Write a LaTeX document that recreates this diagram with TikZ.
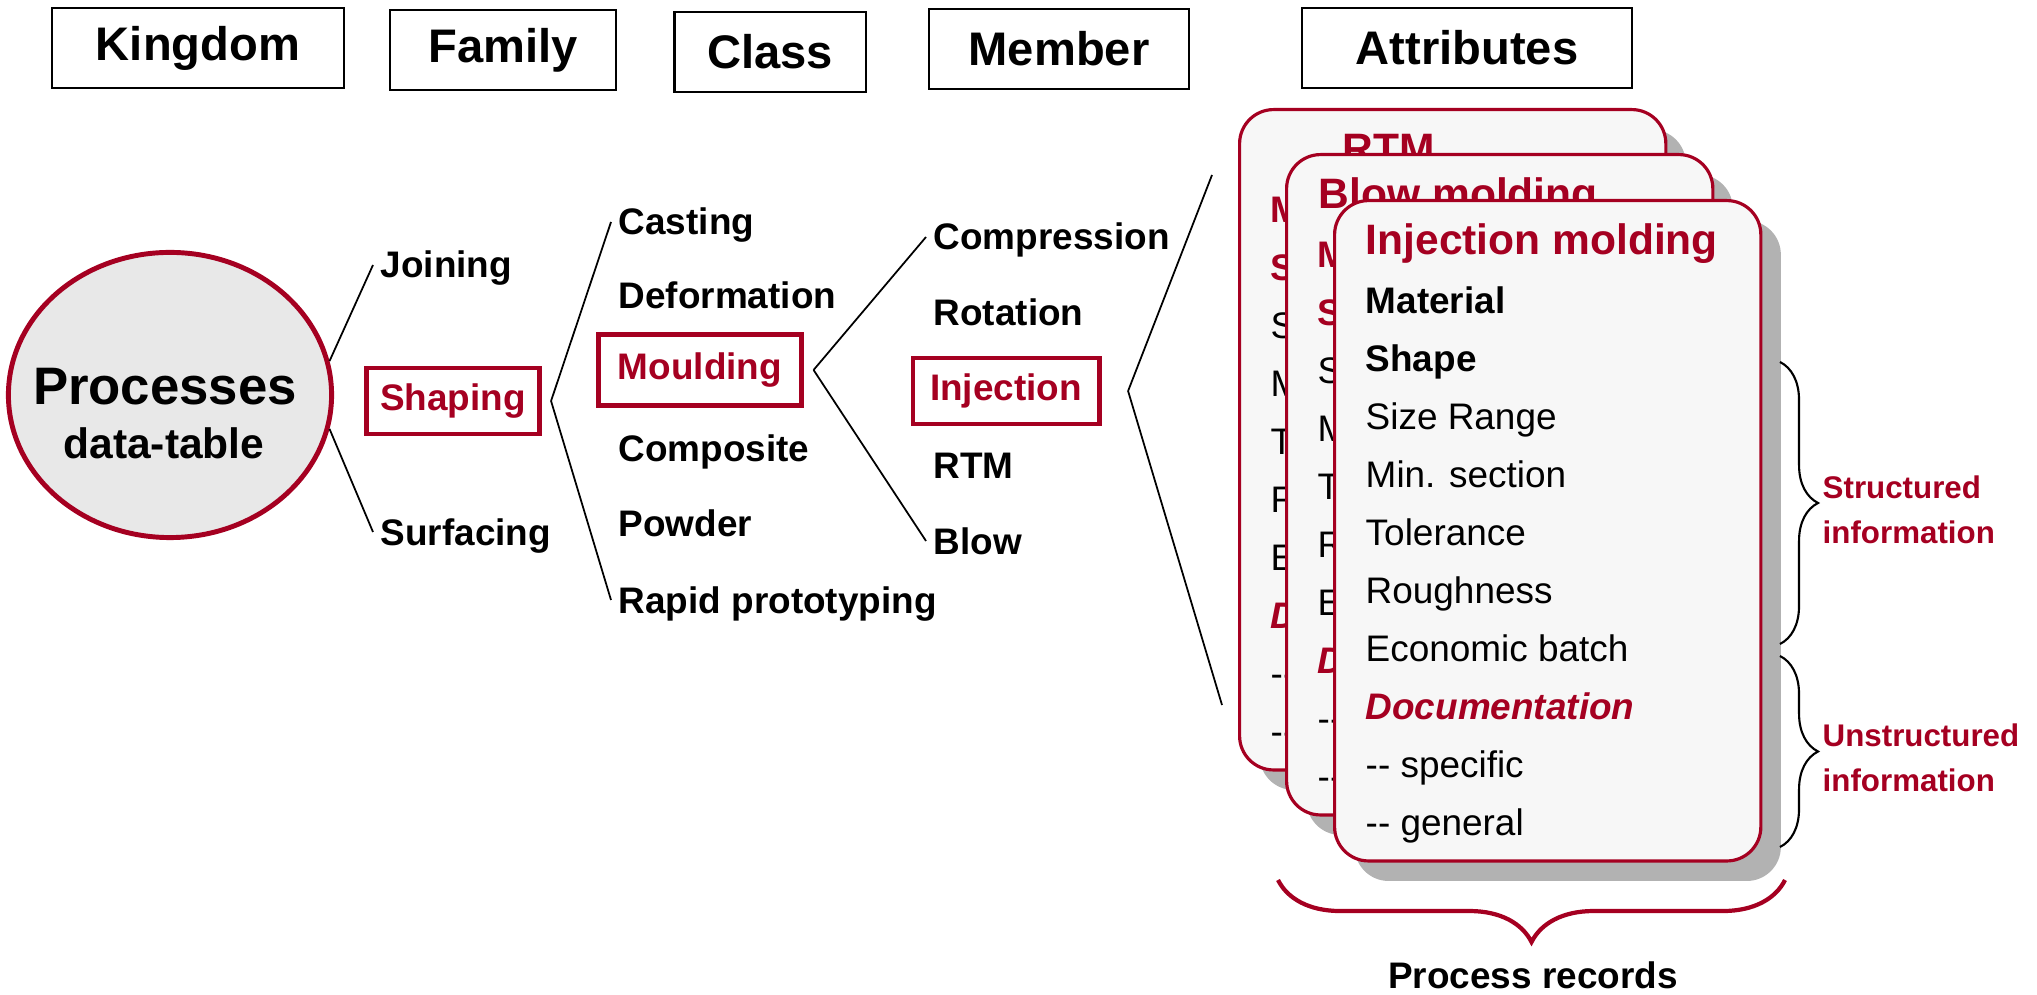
\documentclass[tikz,border=0pt]{standalone}
\usepackage{fontspec}
\setmainfont{Liberation Sans}
\usetikzlibrary{shapes.geometric}
\usetikzlibrary{shadows}
\usetikzlibrary{decorations.pathreplacing}
\usetikzlibrary{calc}

\definecolor{procred}{RGB}{165,0,33}
\definecolor{cardgray}{RGB}{247,247,247}
\definecolor{shadowgray}{RGB}{178,178,178}
\definecolor{bubblegray}{RGB}{232,232,232}

\newcommand{\fsz}[1]{\fontsize{#1}{#1}\selectfont}

% one process record card: name, top left corner, title, title indent, colour of the first two rows
\newcommand{\proccard}[5]{%
  \colorlet{keycol}{#5}%
  \node[card] (#1) at (#2) {};
  \node[cardtitle] at ([xshift=#4,yshift=-0.40cm]#1.north west) {#3};
  \foreach \txt/\sty [count=\i from 0] in {Material/rowkey, Shape/rowkey,
      Size Range/rowtxt, Min. section/rowtxt, Tolerance/rowtxt, Roughness/rowtxt,
      Economic batch/rowtxt, Documentation/rowdoc, -{}- specific/rowtxt, -{}- general/rowtxt}
    \node[\sty] at ([xshift=0.32cm,yshift=-1.01cm-0.58cm*\i]#1.north west) {\txt};
}

\begin{document}
\begin{tikzpicture}[x=0.01cm, y=-0.01cm,
  hdr/.style={draw, line width=0.6pt, font=\bfseries\fsz{13.4}, minimum height=0.8cm, inner sep=0},
  sel/.style={draw=procred, line width=1.4pt, text=procred, font=\bfseries\fsz{10.5}, inner sep=0, outer sep=0.12cm},
  lbl/.style={font=\bfseries\fsz{10.5}, anchor=west, inner xsep=0.07cm, inner ysep=0, text height=0.26cm, text depth=0cm},
  link/.style={line width=0.5pt},
  card/.style={draw=procred, line width=0.9pt, fill=cardgray, rounded corners=0.34cm,
    minimum width=4.26cm, minimum height=6.6cm, inner sep=0, anchor=north west,
    drop shadow={shadow xshift=0.2cm, shadow yshift=-0.2cm, fill=shadowgray, opacity=1}},
  cardtitle/.style={font=\bfseries\fsz{12.1}, text=procred, anchor=west, inner sep=0, text height=0.30cm, text depth=0cm},
  rowtxt/.style={font=\fsz{10.5}, anchor=west, inner sep=0, text height=0.26cm, text depth=0cm},
  rowkey/.style={rowtxt, font=\bfseries\fsz{10.5}, text=keycol},
  rowdoc/.style={rowtxt, font=\bfseries\itshape\fsz{10.5}, text=procred},
  infobrace/.style={decorate, decoration={brace, amplitude=0.38cm}, line width=0.6pt},
  recbrace/.style={decorate, decoration={brace, amplitude=0.62cm}, draw=procred, line width=1.2pt},
  infolbl/.style={font=\bfseries\fontsize{8.9}{12.8}\selectfont, text=procred, align=left, anchor=west, inner sep=0}]
  \useasboundingbox (0,0) rectangle (2037,995);

  % column headers
  \node[hdr, minimum width=2.92cm] (kingdom)    at (198,48)  {Kingdom};
  \node[hdr, minimum width=2.26cm] (family)     at (503,50)  {Family};
  \node[hdr, minimum width=1.91cm] (class)      at (770,52)  {Class};
  \node[hdr, minimum width=2.60cm] (member)     at (1059,49) {Member};
  \node[hdr, minimum width=3.30cm] (attributes) at (1467,48) {Attributes};

  % kingdom
  \node[draw=procred, line width=1.4pt, fill=bubblegray, ellipse, minimum width=3.23cm,
        minimum height=2.85cm, inner sep=0] (procs) at (170,395) {};
  \node[font=\bfseries\fsz{15}]   (proctitle) at (165,387) {Processes};
  \node[font=\bfseries\fsz{12.1}] (procsub)   at (164,443) {data-table};

  % family
  \node[lbl] (joining) at (373,265) {Joining};
  \node[sel, minimum width=1.72cm, minimum height=0.66cm] (shaping) at (453,401) {Shaping};
  \node[lbl] (surfacing) at (373,532) {Surfacing};

  % class
  \node[lbl] (casting)     at (611,222) {Casting};
  \node[lbl] (deformation) at (611,296) {Deformation};
  \node[sel, minimum width=2.03cm, minimum height=0.71cm] (moulding) at (700,370) {Moulding};
  \node[lbl] (composite)   at (611,448) {Composite};
  \node[lbl] (powder)      at (611,523) {Powder};
  \node[lbl] (rapid)       at (611,600) {Rapid prototyping};

  % member
  \node[lbl] (compression) at (926,237) {Compression};
  \node[lbl] (rotation)    at (926,313) {Rotation};
  \node[sel, minimum width=1.86cm, minimum height=0.66cm] (injection) at (1006,391) {Injection};
  \node[lbl] (rtm)         at (926,465) {RTM};
  \node[lbl] (blow)        at (926,541) {Blow};

  \draw[link] (procs.12) -- (joining.west);
  \draw[link] (procs.-12) -- (surfacing.west);
  \draw[link] (shaping.east) -- (casting.west);
  \draw[link] (shaping.east) -- (rapid.west);
  \draw[link] (moulding.east) -- (compression.west);
  \draw[link] (moulding.east) -- (blow.west);

  \coordinate (stacktop) at (1212,175);
  \coordinate (stackbot) at (1222,705);
  \draw[link] ([xshift=0.17cm]injection.east) -- (stacktop);
  \draw[link] ([xshift=0.17cm]injection.east) -- (stackbot);

  % attributes: stack of process records
  \proccard{cardrtm}{1238,108}{RTM}{1.04cm}{procred}
  \proccard{cardblow}{1285,153}{Blow molding}{0.33cm}{procred}
  \proccard{cardinj}{1333,199}{Injection molding}{0.32cm}{black}

  \draw[infobrace] (1780,362) -- (1780,644);
  \node[infolbl] (structured) at (1822,510) {Structured\\information};
  \draw[infobrace] (1780,656) -- (1780,847);
  \node[infolbl] (unstructured) at (1822,758) {Unstructured\\information};

  \draw[recbrace] (1785,880) -- (1278,880);
  \node[font=\bfseries\fsz{10.5}] (records) at (1533,975) {Process records};
\end{tikzpicture}
\end{document}
